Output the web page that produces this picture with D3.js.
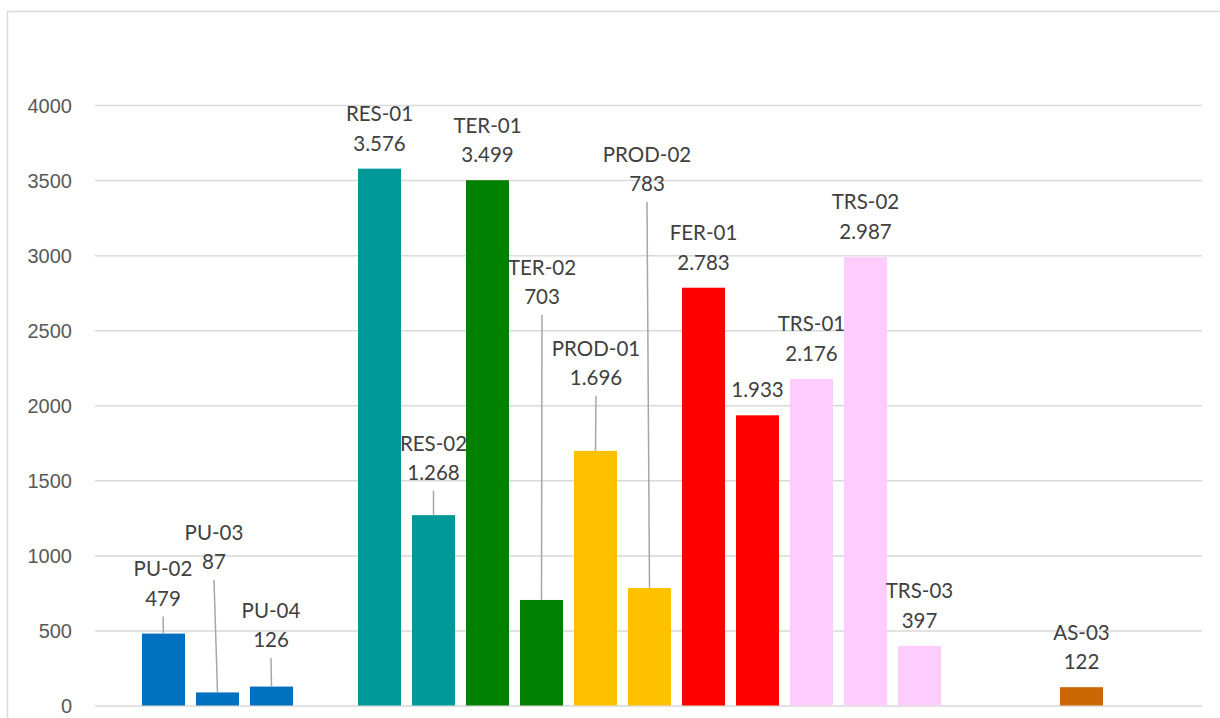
<!DOCTYPE html>
<html lang="pt">
<head>
  <meta charset="UTF-8">
  <title>Gráfico de barras</title>
  <style>
    body {
      margin: 0;
      padding: 0;
      background: #fff;
    }

    svg {
      display: block;
      font-family: Lato, "Open Sans", sans-serif;
    }

    .grid line {
      stroke: #d9d9d9;
      stroke-width: 1.5px;
    }

    .grid text {
      fill: #595959;
      font-size: 20px;
    }

    .label {
      fill: #404040;
      font-size: 20.5px;
      text-anchor: middle;
    }

    .leader {
      stroke: #a6a6a6;
      stroke-width: 1.5px;
    }
  </style>
</head>
<body>
  <div id="chart"></div>

  <script src="https://d3js.org/d3.v7.min.js"></script>
  <script>
    // Dados do gráfico ("" = posição vazia no eixo)
    const categories = ["PU-02", "PU-03", "PU-04", "", "RES-01", "RES-02", "TER-01", "TER-02",
      "PROD-01", "PROD-02", "FER-01", "FER-02", "TRS-01", "TRS-02", "TRS-03", "", "", "AS-03"];
    const values = [479, 87, 126, null, 3576, 1268, 3499, 703,
      1696, 783, 2783, 1933, 2176, 2987, 397, null, null, 122];
    const groups = ["PU", "PU", "PU", "", "RES", "RES", "TER", "TER",
      "PROD", "PROD", "FER", "FER", "TRS", "TRS", "TRS", "", "", "AS"];
    const yTicks = [0, 500, 1000, 1500, 2000, 2500, 3000, 3500, 4000];
    // rótulo sem nome da categoria
    const hiddenNames = ["FER-02"];

    // Cores por grupo
    const groupNames = ["PU", "RES", "TER", "PROD", "FER", "TRS", "AS"];
    const groupColors = ["#0070c0", "#009999", "#008000", "#ffc000", "#ff0000", "#ffccff", "#cc6600"];

    // Rótulos deslocados (px acima da posição padrão) e deslocamento horizontal
    const labelLift = [9.5, 105, 21, 0, 0, 17, 0, 277.5, 47.5, 378.5, 0, 0, 0, 0, 0, 0, 0, 0];
    const labelShift = [-0.5, -3.5, -0.5, 0, 0, 0, 0, 0.5, 0.5, -2.5, 0, 0, 0, 0, 0, 0, 0, 0];

    const width = 1220;
    const height = 718;
    const plot = { left: 95, right: 1202, top: 105, bottom: 705.5 };

    const ptBR = d3.formatLocale({ decimal: ",", thousands: ".", grouping: [3], currency: ["R$", ""] });
    const fmt = ptBR.format(",d");

    const svg = d3.select("#chart")
      .append("svg")
      .attr("width", width)
      .attr("height", height);

    // Moldura do gráfico
    svg.append("rect")
      .attr("x", 7.5)
      .attr("y", 11.5)
      .attr("width", width + 20)
      .attr("height", height + 20)
      .attr("fill", "#fff")
      .attr("stroke", "#d9d9d9")
      .attr("stroke-width", 1.5);

    const x = d3.scaleBand()
      .domain(d3.range(categories.length))
      .range([136.5, 1108.5])
      .paddingInner(11 / 54)
      .paddingOuter(11 / 108);

    const y = d3.scaleLinear()
      .domain([0, 4000])
      .range([plot.bottom, plot.top]);

    const color = d3.scaleOrdinal()
      .domain(groupNames)
      .range(groupColors);

    // Linhas de grade + rótulos do eixo Y
    const grid = svg.append("g")
      .attr("class", "grid")
      .attr("transform", `translate(${plot.left},0)`)
      .call(d3.axisLeft(y)
        .tickValues(yTicks)
        .tickSize(-(plot.right - plot.left))
        .tickPadding(23)
        .tickFormat(d3.format("d")));
    grid.select(".domain").remove();
    grid.selectAll("text").attr("dy", "0.36em");

    const data = categories.map((c, i) => ({
      name: c, value: values[i], group: groups[i], i: i,
      lift: labelLift[i], shift: labelShift[i]
    })).filter(d => d.value != null);

    // Barras
    svg.selectAll("rect.bar")
      .data(data)
      .enter()
      .append("rect")
      .attr("class", "bar")
      .attr("x", d => x(d.i))
      .attr("y", d => y(d.value))
      .attr("width", x.bandwidth())
      .attr("height", d => y(0) - y(d.value))
      .attr("fill", d => color(d.group));

    const cx = d => x(d.i) + x.bandwidth() / 2;
    const valueY = d => y(d.value) - 25.5 - d.lift;

    // Linhas de chamada
    svg.selectAll("line.leader")
      .data(data.filter(d => d.lift > 0))
      .enter()
      .append("line")
      .attr("class", "leader")
      .attr("x1", d => cx(d) + d.shift)
      .attr("y1", d => valueY(d) + 18)
      .attr("x2", d => cx(d))
      .attr("y2", d => y(d.value));

    // Rótulos: nome + valor
    const labels = svg.selectAll("g.lbl")
      .data(data)
      .enter()
      .append("g")
      .attr("class", "lbl")
      .attr("transform", d => `translate(${cx(d) + d.shift},${valueY(d)})`);

    labels.filter(d => !hiddenNames.includes(d.name))
      .append("text")
      .attr("class", "label")
      .attr("y", -29.5)
      .attr("dy", "0.36em")
      .text(d => d.name);

    labels.append("text")
      .attr("class", "label")
      .attr("dy", "0.36em")
      .text(d => fmt(d.value));
  </script>
</body>
</html>
